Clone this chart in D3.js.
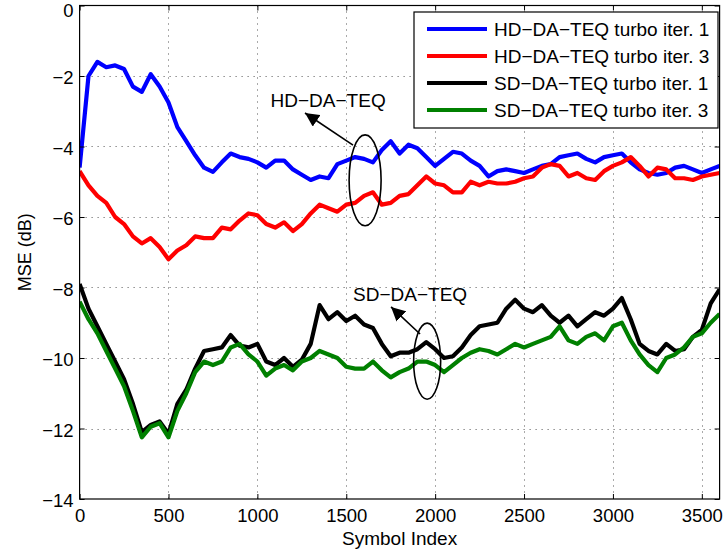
<!DOCTYPE html>
<html>
<head>
<meta charset="utf-8">
<script src="https://cdn.jsdelivr.net/npm/d3@7"></script>
<style>
  body { margin: 0; background: #fff; }
  svg { font-family: Arial, "Liberation Sans", Helvetica, sans-serif; }
</style>
</head>
<body>
<svg width="726" height="554"></svg>
<script>
// symbol index samples (every 50 symbols)
const symbolIndex = d3.range(0, 3601, 50);

const hdIter1 = [-4.6, -2.0, -1.6, -1.75, -1.7, -1.8, -2.3, -2.45, -1.95, -2.3,
  -2.75, -3.45, -3.85, -4.25, -4.6, -4.72, -4.45, -4.2, -4.3, -4.35,
  -4.45, -4.6, -4.4, -4.4, -4.65, -4.8, -4.95, -4.85, -4.9, -4.5,
  -4.4, -4.3, -4.35, -4.45, -4.1, -3.85, -4.2, -3.95, -4.05, -4.3,
  -4.55, -4.35, -4.15, -4.2, -4.4, -4.55, -4.85, -4.7, -4.65, -4.7,
  -4.75, -4.65, -4.55, -4.5, -4.3, -4.25, -4.2, -4.35, -4.45, -4.3,
  -4.25, -4.2, -4.45, -4.65, -4.75, -4.8, -4.75, -4.6, -4.55, -4.65,
  -4.75, -4.65, -4.55];

const hdIter3 = [-4.7, -5.1, -5.4, -5.6, -6.0, -6.2, -6.55, -6.75, -6.6, -6.85,
  -7.2, -6.95, -6.8, -6.55, -6.6, -6.6, -6.3, -6.35, -6.1, -5.9,
  -5.95, -6.2, -6.3, -6.15, -6.4, -6.2, -5.9, -5.65, -5.75, -5.85,
  -5.65, -5.6, -5.4, -5.3, -5.65, -5.6, -5.4, -5.35, -5.1, -4.85,
  -5.05, -5.1, -5.3, -5.3, -5.0, -5.1, -5.0, -5.05, -5.05, -5.0,
  -4.9, -4.85, -4.6, -4.5, -4.55, -4.85, -4.75, -4.9, -4.95, -4.7,
  -4.55, -4.45, -4.3, -4.55, -4.85, -4.6, -4.65, -4.9, -4.9, -4.95,
  -4.85, -4.8, -4.75];

const sdIter1 = [-7.9, -8.6, -9.1, -9.6, -10.1, -10.6, -11.3, -12.1, -11.9, -11.8,
  -12.15, -11.3, -10.9, -10.3, -9.8, -9.75, -9.7, -9.35, -9.65, -9.7,
  -9.6, -10.1, -10.2, -10.0, -10.25, -10.05, -9.6, -8.5, -8.9, -8.7,
  -8.95, -8.8, -9.05, -9.15, -9.6, -9.95, -9.85, -9.85, -9.75, -9.55,
  -9.75, -10.0, -9.95, -9.7, -9.35, -9.1, -9.05, -9.0, -8.6, -8.35,
  -8.6, -8.7, -8.5, -8.8, -9.0, -8.8, -9.1, -8.9, -8.7, -8.8,
  -8.6, -8.3, -8.9, -9.6, -9.8, -9.9, -9.6, -9.8, -9.75, -9.4,
  -9.2, -8.45, -8.05];

const sdIter3 = [-8.4, -8.9, -9.3, -9.8, -10.3, -10.8, -11.5, -12.25, -11.95, -11.85,
  -12.25, -11.5, -11.0, -10.4, -10.1, -10.2, -10.1, -9.7, -9.6, -9.9,
  -10.1, -10.5, -10.3, -10.2, -10.35, -10.1, -10.0, -9.8, -9.9, -10.0,
  -10.25, -10.3, -10.3, -10.1, -10.35, -10.55, -10.4, -10.3, -10.1, -10.1,
  -10.2, -10.4, -10.2, -10.0, -9.85, -9.75, -9.8, -9.9, -9.75, -9.6,
  -9.7, -9.6, -9.5, -9.4, -9.1, -9.5, -9.6, -9.4, -9.3, -9.5,
  -9.1, -9.0, -9.5, -9.9, -10.2, -10.4, -10.0, -9.9, -9.7, -9.4,
  -9.3, -9.0, -8.75];

const seriesNames = ["HD\u2212DA\u2212TEQ turbo iter. 1", "HD\u2212DA\u2212TEQ turbo iter. 3",
  "SD\u2212DA\u2212TEQ turbo iter. 1", "SD\u2212DA\u2212TEQ turbo iter. 3"];
const seriesColors = ["#0000ff", "#ff0000", "#000000", "#008000"];
const seriesValues = [hdIter1, hdIter3, sdIter1, sdIter3];

const xTicks = d3.range(0, 3501, 500);
const yTicks = d3.range(-14, 1, 2);

// annotations in data units: [center x, center y, rx, ry]
const hdEllipse = [1606, -4.96, 90, 1.29];
const sdEllipse = [1955, -10.09, 76, 1.08];
const hdArrow = [1538, -3.96, 1268, -3.05];
const sdArrow = [1915, -9.32, 1752, -8.55];
const hdLabel = [1398, -2.88, "HD\u2212DA\u2212TEQ"];
const sdLabel = [1859, -8.38, "SD\u2212DA\u2212TEQ"];

const svg = d3.select("svg");
const plotLeft = 79.6, plotRight = 719.6, plotTop = 5.5, plotBottom = 499;

const x = d3.scaleLinear().domain([0, 3600]).range([plotLeft, plotRight]);
const y = d3.scaleLinear().domain([-14, 0]).range([plotBottom, plotTop]);

const minus = s => String(s).replace("-", "\u2212");

// grid
const grid = svg.append("g").attr("stroke", "#555").attr("stroke-width", 1)
  .attr("stroke-dasharray", "1,5");
grid.selectAll(".gx").data(xTicks.filter(d => d > 0)).enter().append("line")
  .attr("x1", d => Math.round(x(d)) + 0.5).attr("x2", d => Math.round(x(d)) + 0.5)
  .attr("y1", plotTop).attr("y2", plotBottom);
grid.selectAll(".gy").data(yTicks.filter(d => d > -14 && d < 0)).enter().append("line")
  .attr("y1", d => Math.round(y(d)) + 0.5).attr("y2", d => Math.round(y(d)) + 0.5)
  .attr("x1", plotLeft).attr("x2", plotRight);

// lines
svg.append("clipPath").attr("id", "clip").append("rect")
  .attr("x", plotLeft).attr("y", plotTop)
  .attr("width", plotRight - plotLeft).attr("height", plotBottom - plotTop);

const line = d3.line().x((d, i) => x(symbolIndex[i])).y(d => y(d));

svg.append("g").attr("clip-path", "url(#clip)")
  .selectAll("path").data(seriesValues).enter().append("path")
  .attr("d", line)
  .attr("fill", "none")
  .attr("stroke", (d, i) => seriesColors[i])
  .attr("stroke-width", 4.2)
  .attr("stroke-linejoin", "round");

// box and axes (ticks inward)
svg.append("rect").attr("x", plotLeft).attr("y", plotTop)
  .attr("width", plotRight - plotLeft).attr("height", plotBottom - plotTop)
  .attr("fill", "none").attr("stroke", "#000").attr("stroke-width", 1.2);

const xAxis = svg.append("g").attr("transform", `translate(0,${plotBottom})`)
  .call(d3.axisBottom(x).tickValues(xTicks).tickSizeInner(-5).tickSizeOuter(0)
    .tickPadding(10).tickFormat(d3.format("d")));
const yAxis = svg.append("g").attr("transform", `translate(${plotLeft},0)`)
  .call(d3.axisLeft(y).tickValues(yTicks).tickSizeInner(-5).tickSizeOuter(0)
    .tickPadding(6).tickFormat(minus));
svg.append("g").attr("transform", `translate(0,${plotTop})`)
  .call(d3.axisTop(x).tickValues(xTicks).tickSizeInner(-5).tickSizeOuter(0).tickFormat(""));
svg.append("g").attr("transform", `translate(${plotRight},0)`)
  .call(d3.axisRight(y).tickValues(yTicks).tickSizeInner(-5).tickSizeOuter(0).tickFormat(""));

svg.selectAll(".domain").remove();
svg.selectAll(".tick line").attr("stroke", "#000");
svg.selectAll(".tick text").attr("font-size", 18.5)
  .attr("font-family", "Arial, 'Liberation Sans', sans-serif").attr("fill", "#000");
// top label "0" nudged down a little so it stays inside the page
yAxis.selectAll(".tick text").attr("dy", d => d === 0 ? "0.6em" : "0.42em");

// axis titles
svg.append("text").attr("x", (plotLeft + plotRight) / 2).attr("y", 545)
  .attr("text-anchor", "middle").attr("font-size", 19).text("Symbol Index");
svg.append("text").attr("transform", `translate(31,${(plotTop + plotBottom) / 2}) rotate(-90)`)
  .attr("text-anchor", "middle").attr("font-size", 18).text("MSE (dB)");

// annotations
svg.append("defs").append("marker").attr("id", "head")
  .attr("viewBox", "0 0 10 10").attr("refX", 10).attr("refY", 5)
  .attr("markerWidth", 14).attr("markerHeight", 14).attr("markerUnits", "userSpaceOnUse")
  .attr("orient", "auto")
  .append("path").attr("d", "M0,0 L10,5 L0,10 z").attr("fill", "#000");

[hdEllipse, sdEllipse].forEach(e => {
  svg.append("ellipse")
    .attr("cx", x(e[0])).attr("cy", y(e[1]))
    .attr("rx", x(e[2]) - x(0)).attr("ry", y(-e[3]) - y(0))
    .attr("fill", "none").attr("stroke", "#000").attr("stroke-width", 1.6);
});
[hdArrow, sdArrow].forEach(a => {
  svg.append("line")
    .attr("x1", x(a[0])).attr("y1", y(a[1]))
    .attr("x2", x(a[2])).attr("y2", y(a[3]))
    .attr("stroke", "#000").attr("stroke-width", 1.6)
    .attr("marker-end", "url(#head)");
});
[hdLabel, sdLabel].forEach(t => {
  svg.append("text").attr("x", x(t[0])).attr("y", y(t[1]))
    .attr("text-anchor", "middle").attr("font-size", 19).text(t[2]);
});

// legend
const legend = svg.append("g").attr("transform", "translate(414,12)");
legend.append("rect").attr("width", 304).attr("height", 116)
  .attr("fill", "#fff").attr("stroke", "#000").attr("stroke-width", 1.2);
const item = legend.selectAll(".item").data(seriesNames).enter().append("g")
  .attr("transform", (d, i) => `translate(0,${17 + i * 27})`);
item.append("line").attr("x1", 13).attr("x2", 73)
  .attr("stroke", (d, i) => seriesColors[i]).attr("stroke-width", 4);
item.append("text").attr("x", 80).attr("dy", "0.36em").attr("font-size", 19).text(d => d);
</script>
</body>
</html>
